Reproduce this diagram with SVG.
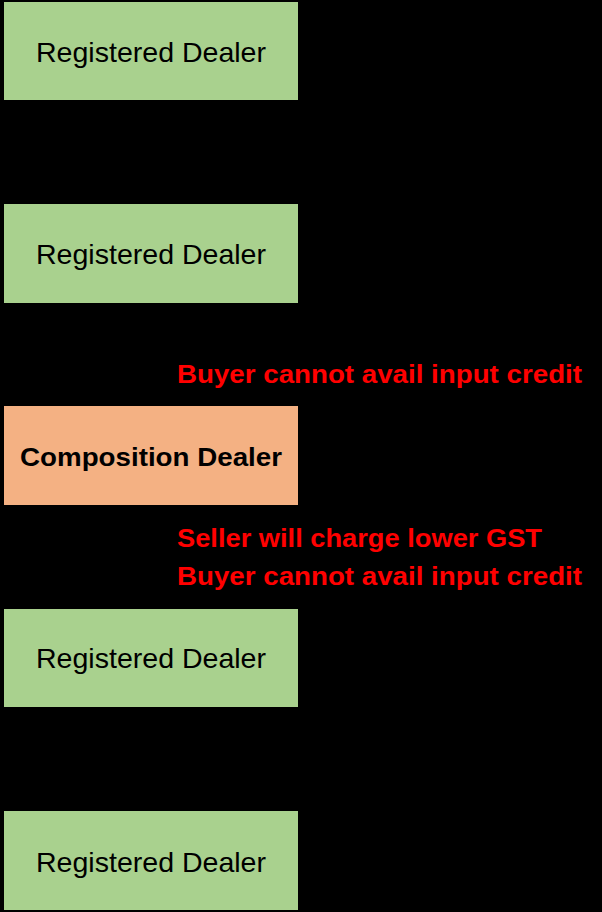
<svg xmlns="http://www.w3.org/2000/svg" width="602" height="912" viewBox="0 0 602 912">
<style>
.bg{fill:#000}
.reg{fill:#A9D18E}
.comp{fill:#F4B183}
.lbl{font-family:"Liberation Sans",Arial,sans-serif;font-size:28px;fill:#000;text-anchor:middle}
.bold{font-weight:bold;font-size:26px}
.note{font-family:"Liberation Sans",Arial,sans-serif;font-size:26px;font-weight:bold;fill:#FF0000}
</style>
<rect class="bg" x="0" y="0" width="602" height="912"/>
<g id="node1"><rect class="reg" x="4" y="2" width="294" height="98"/><text class="lbl" x="151" y="62" textLength="230" lengthAdjust="spacingAndGlyphs">Registered Dealer</text></g>
<g id="node2"><rect class="reg" x="4" y="204" width="294" height="99"/><text class="lbl" x="151" y="264" textLength="230" lengthAdjust="spacingAndGlyphs">Registered Dealer</text></g>
<g id="node3"><rect class="comp" x="4" y="406" width="294" height="99"/><text class="lbl bold" x="151" y="466" textLength="262" lengthAdjust="spacingAndGlyphs">Composition Dealer</text></g>
<g id="node4"><rect class="reg" x="4" y="609" width="294" height="98"/><text class="lbl" x="151" y="668" textLength="230" lengthAdjust="spacingAndGlyphs">Registered Dealer</text></g>
<g id="node5"><rect class="reg" x="4" y="811" width="294" height="99"/><text class="lbl" x="151" y="872" textLength="230" lengthAdjust="spacingAndGlyphs">Registered Dealer</text></g>
<g id="connectors">
<text class="note" x="177" y="383" textLength="405" lengthAdjust="spacingAndGlyphs">Buyer cannot avail input credit</text>
<text class="note" x="177" y="547" textLength="365" lengthAdjust="spacingAndGlyphs">Seller will charge lower GST</text>
<text class="note" x="177" y="585" textLength="405" lengthAdjust="spacingAndGlyphs">Buyer cannot avail input credit</text>
</g>
</svg>
